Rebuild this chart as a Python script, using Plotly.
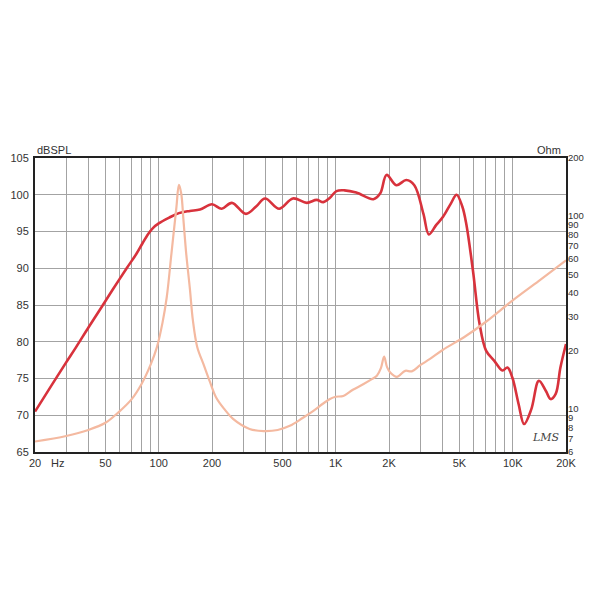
import plotly.graph_objects as go

# ---------------- data ----------------
spl_freq = [20, 25, 30, 34, 40, 47.5, 55, 65.9, 75, 81, 87.4, 93, 100, 115, 130, 150, 171, 200, 227, 259,
            311, 355, 399, 479, 573, 687, 780, 851, 928, 1010, 1121, 1307, 1632, 1785, 1938, 2200,
            2505, 2780, 3130, 3360, 3700, 4040, 4470, 4820, 5190, 5460, 5960, 6500, 7070, 7870,
            8750, 9340, 9960, 10800, 11600, 12730, 14050, 15400, 16380, 17490, 18600, 20000]
spl_db = [70.5, 74.2, 77.2, 79.2, 81.9, 84.7, 87.1, 90.0, 92.0, 93.4, 94.7, 95.5, 96.1, 96.9, 97.5, 97.8, 98.0,
          98.7, 98.1, 98.9, 97.4, 98.4, 99.5, 98.1, 99.5, 98.9, 99.3, 99.0, 99.6, 100.5, 100.6,
          100.3, 99.4, 100.2, 102.7, 101.3, 102.0, 101.3, 97.4, 94.6, 95.9, 97.0, 98.8, 100.0,
          98.4, 96.1, 89.7, 82.4, 78.8, 77.4, 76.1, 76.5, 75.1, 71.5, 68.8, 70.8, 74.7, 73.3,
          72.2, 72.9, 76.5, 79.7]

imp_freq = [20, 30, 40, 50, 59, 70, 80, 90, 97.6, 105, 111, 118, 122, 126, 130, 134, 138, 143, 150,
            156, 165, 179, 195, 211, 235, 263, 326, 392, 470, 550, 650, 748, 850, 928, 1000, 1104,
            1250, 1437, 1600, 1708, 1800, 1877, 1950, 2032, 2217, 2470, 2690, 3000, 3410, 4000,
            5460, 7000, 9960, 14000, 20000]
imp_ohm = [6.8, 7.26, 7.8, 8.5, 9.6, 11.2, 13.5, 17.0, 20.9, 28.0, 38.0, 64.0, 85.0, 112.0, 145.0,
           131.0, 95.0, 64.0, 42.0, 28.8, 21.0, 17.1, 13.8, 11.5, 10.0, 8.9, 7.9, 7.7, 7.8, 8.2,
           9.0, 9.8, 10.7, 11.3, 11.6, 11.7, 12.6, 13.5, 14.3, 14.9, 16.3, 18.7, 16.5, 15.5, 14.7,
           15.8, 15.7, 16.9, 18.2, 20.2, 24.0, 28.2, 36.5, 46.1, 59.0]

x_grid = [20, 30, 40, 50, 60, 70, 80, 90, 100, 200, 300, 400, 500, 600, 700, 800, 900,
          1000, 2000, 3000, 4000, 5000, 6000, 7000, 8000, 9000, 10000, 20000]
x_labels = {20: "20", 50: "50", 100: "100", 200: "200", 500: "500", 1000: "1K",
            2000: "2K", 5000: "5K", 10000: "10K", 20000: "20K"}
db_ticks = [65, 70, 75, 80, 85, 90, 95, 100, 105]
ohm_ticks = [6, 7, 8, 9, 10, 20, 30, 40, 50, 60, 70, 80, 90, 100, 200]

# ---------------- figure ----------------
spl_color = "#d8323c"
imp_color = "#f4b9a0"
font_fam = "Liberation Sans, Arial, sans-serif"
txt_color = "#333333"

fig = go.Figure()
fig.add_trace(go.Scatter(x=imp_freq, y=imp_ohm, yaxis="y2", mode="lines",
                         line=dict(color=imp_color, width=2.2, shape="spline", smoothing=1.0),
                         hoverinfo="skip", showlegend=False))
fig.add_trace(go.Scatter(x=spl_freq, y=spl_db, mode="lines",
                         line=dict(color=spl_color, width=2.6, shape="spline", smoothing=1.0),
                         hoverinfo="skip", showlegend=False))

fig.update_layout(
    width=600, height=600,
    margin=dict(l=27, r=42, t=150, b=156, autoexpand=False),
    paper_bgcolor="white", plot_bgcolor="white",
    font=dict(family=font_fam, size=11, color=txt_color),
    xaxis=dict(type="log", range=[1.30103, 4.30103], automargin=False,
               tickvals=x_grid, ticktext=[x_labels.get(v, "") for v in x_grid],
               showgrid=True, gridcolor="#a3a3a3", gridwidth=1.3,
               showline=True, linecolor="#222222", linewidth=2, mirror=True,
               ticks="", zeroline=False, tickangle=0),
    yaxis=dict(range=[65, 105], tickvals=db_ticks, automargin=False,
               showgrid=True, gridcolor="#a3a3a3", gridwidth=1.3,
               showline=True, linecolor="#222222", linewidth=2, mirror=True,
               ticks="", zeroline=False, ticklabelstandoff=2),
    yaxis2=dict(type="log", range=[0.778151, 2.30103], overlaying="y", side="right",
                automargin=False,
                tickvals=ohm_ticks, ticktext=[str(v) for v in ohm_ticks],
                tickfont=dict(size=9.5),
                showgrid=False, showline=False, ticks="", zeroline=False,
                ticklabelstandoff=1),
)

fig.add_annotation(text="dBSPL", xref="paper", yref="paper", x=0.0, y=1.027,
                   xanchor="left", yanchor="middle", showarrow=False,
                   font=dict(size=11, color=txt_color))
fig.add_annotation(text="Ohm", xref="paper", yref="paper", x=0.994, y=1.027,
                   xanchor="right", yanchor="middle", showarrow=False,
                   font=dict(size=11, color=txt_color))
fig.add_annotation(text="Hz", xref="paper", yref="paper", x=0.042, y=-0.037,
                   xanchor="center", yanchor="middle", showarrow=False,
                   font=dict(size=11, color=txt_color))
fig.add_annotation(text="<i>LMS</i>", xref="paper", yref="paper", x=0.962, y=0.048,
                   xanchor="center", yanchor="middle", showarrow=False,
                   font=dict(size=11, color="#444444", family="DejaVu Serif, serif"))

fig.write_html("out.html")
